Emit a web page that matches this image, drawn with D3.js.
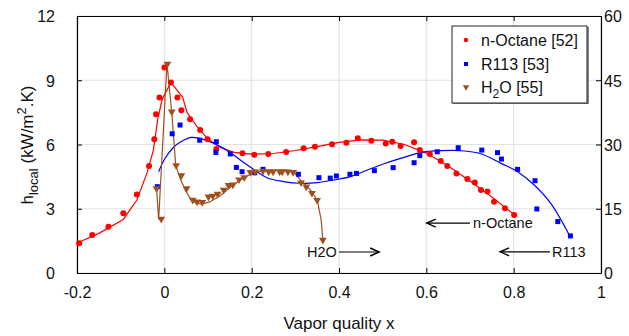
<!DOCTYPE html>
<html><head><meta charset="utf-8">
<script src="https://cdn.jsdelivr.net/npm/d3@7"></script>
<style>body{margin:0;background:#fff}svg{display:block;font-family:"Liberation Sans",Arial,sans-serif}</style>
</head><body><svg id="c" width="629" height="336"></svg>
<script>
// ---- data ----
const xTicks = [-0.2, 0, 0.2, 0.4, 0.6, 0.8, 1];
const xTickLabels = ["-0.2", "0", "0.2", "0.4", "0.6", "0.8", "1"];
const yTicks = [0, 3, 6, 9, 12];
const y2Ticks = [0, 15, 30, 45, 60];

const octaneX = [-0.195,-0.165,-0.128,-0.094,-0.063,-0.035,-0.023,-0.019,-0.011,0.0,0.015,0.03,0.039,0.059,0.082,0.099,0.119,0.179,0.206,0.238,0.279,0.319,0.345,0.384,0.417,0.443,0.474,0.507,0.522,0.541,0.572,0.585,0.608,0.633,0.648,0.669,0.694,0.711,0.725,0.74,0.755,0.78,0.801];
const octaneY = [1.39,1.77,2.16,2.79,3.67,5.0,6.24,7.41,8.2,9.6,8.9,8.2,7.6,7.18,6.68,6.24,5.79,5.59,5.52,5.56,5.65,5.82,5.9,6.01,6.08,6.29,6.18,6.05,6.13,5.93,6.1,5.74,5.56,5.23,5.0,4.65,4.39,4.23,3.87,3.8,3.33,3.02,2.71];
const octaneFitX = [-0.2,-0.15,-0.094,-0.063,-0.04,-0.025,-0.015,-0.005,0.015,0.042,0.052,0.075,0.1,0.13,0.16,0.2,0.25,0.3,0.35,0.4,0.45,0.5,0.55,0.6,0.65,0.7,0.75,0.8];
const octaneFitY = [1.4,1.85,2.5,3.41,4.65,5.74,7.2,8.1,8.9,8.2,7.5,6.83,6.25,5.85,5.63,5.55,5.58,5.72,5.9,6.1,6.22,6.2,6.0,5.6,5.0,4.3,3.55,2.75];

const r113X = [-0.016,0.018,0.036,0.081,0.119,0.118,0.151,0.165,0.178,0.207,0.226,0.307,0.354,0.38,0.394,0.425,0.44,0.481,0.524,0.572,0.585,0.625,0.673,0.727,0.763,0.772,0.809,0.849,0.853,0.901,0.93];
const r113Y = [4.03,6.5,6.91,6.2,6.13,5.63,5.56,4.93,4.73,4.68,4.84,4.61,4.45,4.43,4.53,4.61,4.65,4.78,4.92,5.15,5.48,5.66,5.85,5.74,5.62,5.32,4.84,4.31,2.99,2.4,1.73];
const r113FitX = [-0.013,0.0,0.02,0.04,0.063,0.098,0.136,0.174,0.2,0.235,0.273,0.312,0.35,0.388,0.426,0.465,0.503,0.541,0.587,0.633,0.679,0.725,0.771,0.809,0.847,0.885,0.93];
const r113FitY = [4.73,5.3,5.85,6.15,6.33,6.18,5.82,5.28,4.9,4.45,4.27,4.19,4.22,4.34,4.5,4.81,5.1,5.35,5.62,5.71,5.71,5.57,5.12,4.73,4.11,3.25,1.67];

const h2oX = [-0.018,-0.007,0.007,0.017,0.027,0.039,0.051,0.065,0.075,0.087,0.101,0.111,0.122,0.136,0.147,0.157,0.171,0.183,0.197,0.208,0.226,0.239,0.249,0.264,0.27,0.283,0.295,0.313,0.325,0.338,0.35,0.363];
const h2oY = [3.95,2.52,9.76,7.53,5.02,4.55,3.95,3.41,3.33,3.3,3.56,3.6,3.69,3.88,4.1,4.12,4.36,4.46,4.7,4.73,4.76,4.73,4.73,4.73,4.73,4.73,4.7,4.22,4.03,3.73,3.4,1.54];
const h2oFitX = [-0.018,-0.013,0.006,0.017,0.026,0.036,0.048,0.059,0.071,0.086,0.105,0.128,0.151,0.174,0.207,0.24,0.28,0.295,0.312,0.335,0.35,0.359,0.363];
const h2oFitY = [4.0,2.5,9.79,7.5,5.04,4.42,3.87,3.49,3.28,3.22,3.33,3.61,4.0,4.34,4.73,4.8,4.8,4.75,4.34,3.87,3.41,2.5,1.54];

const legendLabels = ["n-Octane [52]", "R113 [53]", "H2O [55]"];
const annotations = [
  {text: "H2O", tx: 0.395, ty: 0.98, ax1: 0.4, ax2: 0.492, dir: 1},
  {text: "n-Octane", tx: 0.707, ty: 2.33, ax1: 0.7, ax2: 0.601, dir: -1},
  {text: "R113", tx: 0.888, ty: 0.99, ax1: 0.883, ax2: 0.769, dir: -1}
];

// ---- layout ----
const m = {l: 77, r: 601, t: 16, b: 273};
const red = "#ff0000", blue = "#0000ff", brown = "#a0501e";
const svg = d3.select("#c");

const x = d3.scaleLinear().domain([-0.2, 1]).range([m.l, m.r]);
const y = d3.scaleLinear().domain([0, 12]).range([m.b, m.t]);
const y2 = d3.scaleLinear().domain([0, 60]).range([m.b, m.t]);

// grid
const g = svg.append("g");
g.selectAll(".gx").data(xTicks).join("line")
  .attr("x1", d => x(d)).attr("x2", d => x(d)).attr("y1", m.t).attr("y2", m.b)
  .attr("stroke", "#e3e3e3").attr("stroke-width", 1.2);
g.selectAll(".gy").data(yTicks).join("line")
  .attr("y1", d => y(d)).attr("y2", d => y(d)).attr("x1", m.l).attr("x2", m.r)
  .attr("stroke", "#e3e3e3").attr("stroke-width", 1.2);

// axes
const fs = 16;
const ax = svg.append("g").attr("transform", `translate(0,${m.b})`)
  .call(d3.axisBottom(x).tickValues(xTicks).tickFormat((d, i) => xTickLabels[i]).tickSizeInner(-5).tickSizeOuter(0).tickPadding(14));
const axT = svg.append("g").attr("transform", `translate(0,${m.t})`)
  .call(d3.axisTop(x).tickValues(xTicks).tickFormat("").tickSizeInner(-5).tickSizeOuter(0));
const ay = svg.append("g").attr("transform", `translate(${m.l},0)`)
  .call(d3.axisLeft(y).tickValues(yTicks).tickSizeInner(-5).tickSizeOuter(0).tickPadding(22));
const ay2 = svg.append("g").attr("transform", `translate(${m.r},0)`)
  .call(d3.axisRight(y2).tickValues(y2Ticks).tickSizeInner(-5).tickSizeOuter(0).tickPadding(3));
[ax, axT, ay, ay2].forEach(a => {
  a.select(".domain").attr("stroke", "#000").attr("stroke-width", 1.2);
  a.selectAll(".tick line").attr("stroke", "#000").attr("stroke-width", 1);
  a.selectAll("text").attr("font-size", fs).attr("fill", "#111").attr("font-family", '"Liberation Sans",Arial,sans-serif');
});
ay.selectAll("text").attr("dy", "0.36em");
ay2.selectAll("text").attr("dy", "0.36em");

// axis titles
svg.append("text").attr("x", (m.l + m.r) / 2).attr("y", 329).attr("text-anchor", "middle")
  .attr("font-size", 17).attr("fill", "#111").text("Vapor quality x");
const yl = svg.append("text").attr("transform", `translate(33,${145}) rotate(-90)`).attr("text-anchor", "middle")
  .attr("font-size", 17).attr("fill", "#111");
yl.append("tspan").text("h");
yl.append("tspan").attr("font-size", 13).attr("dy", 5).text("local");
yl.append("tspan").attr("dy", -5).text(" (kW/m");
yl.append("tspan").attr("font-size", 13).attr("dy", -7).text("2");
yl.append("tspan").attr("dy", 7).text(".K)");

// lines
const zip = (a, b) => a.map((v, i) => [v, b[i]]);
const plot = svg.append("g");
plot.append("path").datum(zip(octaneFitX, octaneFitY)).attr("d", d3.line().x(d => x(d[0])).y(d => y(d[1])))
  .attr("fill", "none").attr("stroke", red).attr("stroke-width", 1.2);
plot.append("path").datum(zip(r113FitX, r113FitY)).attr("d", d3.line().x(d => x(d[0])).y(d => y(d[1])).curve(d3.curveCatmullRom))
  .attr("fill", "none").attr("stroke", blue).attr("stroke-width", 1.2);
plot.append("path").datum(zip(h2oFitX, h2oFitY)).attr("d", d3.line().x(d => x(d[0])).y(d => y(d[1])))
  .attr("fill", "none").attr("stroke", brown).attr("stroke-width", 1.2);

// markers
const tri = d3.symbol().type(d3.symbolTriangle).size(26)();
plot.selectAll(".o").data(zip(octaneX, octaneY)).join("circle")
  .attr("cx", d => x(d[0])).attr("cy", d => y(d[1])).attr("r", 3).attr("fill", red);
plot.selectAll(".s").data(zip(r113X, r113Y)).join("rect")
  .attr("x", d => x(d[0]) - 2.5).attr("y", d => y(d[1]) - 2.5).attr("width", 5).attr("height", 5).attr("fill", blue);
plot.selectAll(".t").data(zip(h2oX, h2oY)).join("path")
  .attr("d", tri).attr("transform", d => `translate(${x(d[0])},${y(d[1])}) rotate(180)`).attr("fill", brown);

// annotations
const ann = svg.append("g");
annotations.forEach(a => {
  ann.append("text").attr("x", x(a.tx)).attr("y", y(a.ty)).attr("dy", "0.36em")
    .attr("text-anchor", a.dir > 0 ? "end" : "start").attr("font-size", 14.5).attr("fill", "#111").text(a.text);
  const x1 = x(a.ax1), x2 = x(a.ax2), yy = y(a.ty);
  ann.append("line").attr("x1", x1).attr("x2", x2).attr("y1", yy).attr("y2", yy).attr("stroke", "#000").attr("stroke-width", 1.2);
  const d = a.dir;
  ann.append("path").attr("d", `M${x2 - d * 9},${yy - 4} L${x2},${yy} L${x2 - d * 9},${yy + 4}`)
    .attr("fill", "none").attr("stroke", "#000").attr("stroke-width", 1.4);
});

// legend
const lg = svg.append("g");
lg.append("rect").attr("x", 453).attr("y", 27).attr("width", 136).attr("height", 77).attr("fill", "#888");
lg.append("rect").attr("x", 452).attr("y", 26).attr("width", 135).attr("height", 77).attr("fill", "#fff").attr("stroke", "#222").attr("stroke-width", 1);
const rowsY = [40, 64, 87];
lg.append("circle").attr("cx", 466).attr("cy", rowsY[0]).attr("r", 2.3).attr("fill", red);
lg.append("rect").attr("x", 464).attr("y", rowsY[1] - 2).attr("width", 4).attr("height", 4).attr("fill", blue);
lg.append("path").attr("d", d3.symbol().type(d3.symbolTriangle).size(18)()).attr("transform", `translate(466,${rowsY[2]}) rotate(180)`).attr("fill", brown);
lg.append("text").attr("x", 481).attr("y", rowsY[0]).attr("dy", "0.36em").attr("font-size", 16).attr("fill", "#111").text(legendLabels[0]);
lg.append("text").attr("x", 481).attr("y", rowsY[1]).attr("dy", "0.36em").attr("font-size", 16).attr("fill", "#111").text(legendLabels[1]);
const h = lg.append("text").attr("x", 481).attr("y", rowsY[2]).attr("dy", "0.36em").attr("font-size", 16).attr("fill", "#111");
h.append("tspan").text("H");
h.append("tspan").attr("font-size", 12).attr("dy", 5).text("2");
h.append("tspan").attr("dy", -5).text("O [55]");
</script></body></html>
